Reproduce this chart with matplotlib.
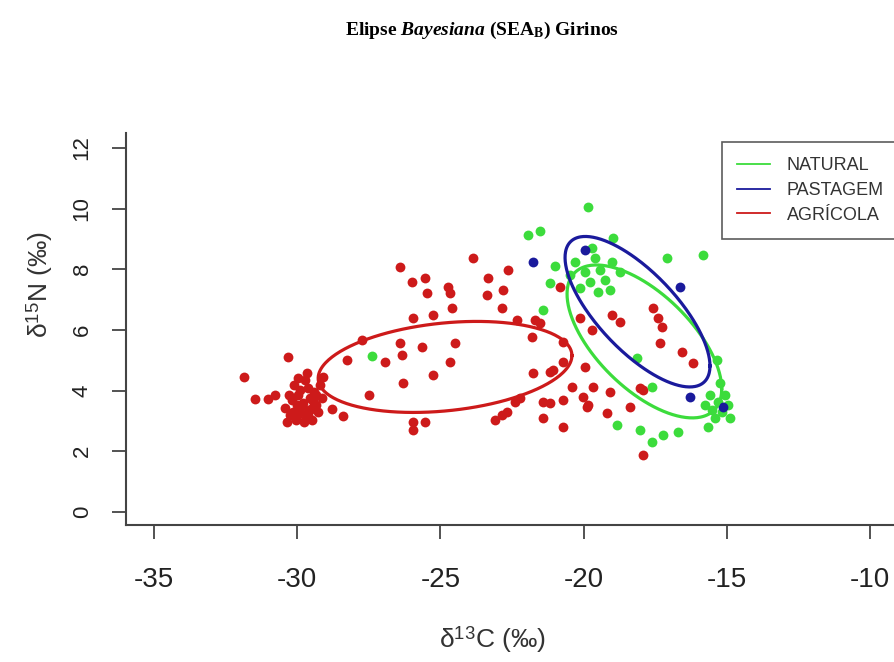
import numpy as np
import matplotlib
matplotlib.use("Agg")
import matplotlib.pyplot as plt
from matplotlib.lines import Line2D

plt.rcParams['font.family'] = ['Liberation Sans', 'DejaVu Sans']
plt.rcParams['axes.unicode_minus'] = False
plt.rcParams['mathtext.fontset'] = 'custom'
plt.rcParams['mathtext.rm'] = 'Liberation Sans'
plt.rcParams['mathtext.it'] = 'Liberation Serif:italic:bold'
plt.rcParams['mathtext.bf'] = 'Liberation Serif:bold'

# d13C / d15N
agri_x = [-31.86, -31.47, -31.02, -30.78, -30.32, -29.66, -29.97, -29.10,
          -30.43, -30.18, -29.97, -29.80, -29.55, -29.34, -30.25, -29.90, -29.62,
          -30.04, -29.76, -29.48, -30.36, -29.27, -29.90, -30.11, -29.62, -29.41,
          -29.13, -29.73, -30.01, -29.52, -29.20, -30.29,
          -29.85, -29.60, -30.15, -29.45, -29.70, -30.00, -29.35,
          -28.78, -28.40, -28.26, -27.74, -26.93, -27.49,
          -26.41, -25.99, -25.54, -25.47, -24.73, -24.66, -24.60, -23.86, -23.34,
          -23.37, -22.81, -22.64, -22.85, -25.96, -25.26, -22.33,
          -26.41, -26.34, -25.64, -24.49, -24.66, -25.26, -26.31,
          -25.96, -25.54, -25.96, -23.09, -22.67, -22.39, -22.85, -22.22,
          -21.77, -21.17, -20.72, -19.95, -20.41, -19.67, -21.42, -21.17, -20.72,
          -20.02, -19.85, -21.42, -20.72, -19.18, -19.08, -18.38, -18.03, -17.93,
          -20.13, -19.71, -19.01, -18.73, -20.82, -21.70, -21.80, -20.72,
          -17.58, -17.40, -17.26, -17.33, -16.56, -16.18, -17.93, -19.88,
          -21.52, -21.07]
agri_y = [4.45, 3.73, 3.73, 3.86, 5.11, 4.58, 4.42, 4.45,
          3.43, 3.69, 3.86, 3.59, 3.76, 3.53, 3.20, 3.30, 3.20,
          3.03, 2.97, 3.03, 2.97, 3.30, 4.02, 4.19, 4.09, 3.96,
          3.76, 4.35, 3.53, 3.40, 4.19, 3.86,
          3.50, 3.35, 3.30, 3.65, 3.10, 3.15, 3.85,
          3.40, 3.17, 5.01, 5.67, 4.95, 3.86,
          8.08, 7.58, 7.72, 7.22, 7.42, 7.22, 6.73, 8.37, 7.72,
          7.15, 7.32, 7.98, 6.73, 6.40, 6.50, 6.33,
          5.57, 5.18, 5.44, 5.57, 4.95, 4.52, 4.25,
          2.97, 2.97, 2.70, 3.03, 3.30, 3.63, 3.20, 3.76,
          4.58, 4.62, 4.95, 4.78, 4.12, 4.12, 3.63, 3.59, 3.69,
          3.79, 3.53, 3.10, 2.80, 3.26, 3.96, 3.46, 4.09, 1.88,
          6.40, 6.00, 6.50, 6.26, 7.42, 6.33, 5.77, 5.60,
          6.73, 6.40, 6.10, 5.57, 5.28, 4.91, 4.02, 3.46,
          6.23, 4.68]

nat_x = [-19.85, -21.94, -21.52, -21.00, -21.17, -18.97, -17.09, -15.83, -21.42,
         -20.30, -19.95, -19.60, -19.43, -19.78, -19.25, -19.01, -20.13, -19.50,
         -19.08, -18.73, -19.71, -20.47,
         -18.14, -17.61, -18.83, -18.03, -17.61, -17.23, -16.70, -15.66,
         -15.34, -15.24, -15.59, -15.31, -15.06, -15.52, -15.17, -14.96, -15.76,
         -14.89, -15.41, -27.39]
nat_y = [10.06, 9.13, 9.26, 8.11, 7.55, 9.03, 8.37, 8.47, 6.66,
         8.24, 7.91, 8.37, 7.98, 7.58, 7.65, 8.24, 7.39, 7.25,
         7.32, 7.91, 8.70, 7.81,
         5.08, 4.12, 2.87, 2.70, 2.31, 2.54, 2.64, 2.80,
         5.01, 4.25, 3.86, 3.63, 3.86, 3.36, 3.30, 3.53, 3.53,
         3.10, 3.10, 5.14]

past_x = [-21.77, -19.95, -16.63, -16.28, -15.13]
past_y = [8.24, 8.64, 7.42, 3.79, 3.46]

# SEA_B ellipses: centre, spread and correlation (NATURAL, PASTAGEM, AGRICOLA)
groups = ['NATURAL', 'PASTAGEM', 'AGRÍCOLA']
colors = ['#3CDC3C', '#1A1A9C', '#CD1A1A']
ell_cx = [-17.88, -18.12, -24.84]
ell_cy = [5.62, 6.60, 4.78]
ell_sx = [2.70, 2.53, 4.43]
ell_sy = [2.52, 2.48, 1.50]
ell_rho = [-0.62, -0.72, 0.25]

fig = plt.figure(figsize=(8.95, 6.62), dpi=100)
ax = fig.add_axes([126 / 895, 1 - 525 / 662, 1 - 126 / 895, (525 - 133) / 662])

ax.scatter(agri_x, agri_y, s=50, color=colors[2], linewidths=0, zorder=2)
ax.scatter(nat_x, nat_y, s=50, color=colors[0], linewidths=0, zorder=3)
ax.scatter(past_x, past_y, s=50, color=colors[1], linewidths=0, zorder=4)

t = np.linspace(0, 2 * np.pi, 300)
for i in [2, 0, 1]:
    ex = ell_cx[i] + ell_sx[i] * np.cos(t)
    ey = ell_cy[i] + ell_sy[i] * (ell_rho[i] * np.cos(t) + np.sqrt(1 - ell_rho[i] ** 2) * np.sin(t))
    ax.plot(ex, ey, color=colors[i], lw=2.3, zorder=5)

ax.set_xlim(-35.98, -35.98 + (895 - 126) / 28.64)
ax.set_ylim(-0.43, 12.49)
ax.set_xticks([-35, -30, -25, -20, -15, -10])
ax.set_yticks([0, 2, 4, 6, 8, 10, 12])
ax.spines['top'].set_visible(False)
ax.spines['right'].set_visible(False)
for s in ['left', 'bottom']:
    ax.spines[s].set_color('#444444')
    ax.spines[s].set_linewidth(1.5)
ax.tick_params(axis='both', length=10, width=1.3, color='#444444', labelcolor='#222222')
ax.tick_params(axis='x', labelsize=20, pad=20)
ax.tick_params(axis='y', labelsize=16, pad=14, labelrotation=90)
for lab in ax.get_yticklabels():
    lab.set_va('center')

handles = [Line2D([], [], color=c, lw=1.3) for c in colors]
leg = fig.legend(handles, groups, loc='upper left', bbox_to_anchor=(722 / 895, 1 - 142 / 662),
                 fontsize=13, frameon=True, fancybox=False, edgecolor='#333333',
                 borderaxespad=0, handlelength=1.8, handletextpad=0.95, labelspacing=0.42,
                 borderpad=0.85)
leg.get_frame().set_linewidth(1.2)
for txt in leg.get_texts():
    txt.set_color('#333333')

fig.text(492 / 895, 1 - 640 / 662, 'δ$^{13}$C (‰)', fontsize=19, ha='center', va='center', color='#333333')
fig.text(40 / 895, 1 - 285 / 662, 'δ$^{15}$N (‰)', fontsize=19, ha='center', va='center',
         rotation=90, color='#333333')
fig.text(482 / 895, 1 - 30 / 662, 'Elipse $\\mathit{Bayesiana}$ (SEA$_\\mathbf{B}$) Girinos',
         fontsize=14, family='Liberation Serif', weight='bold', ha='center', va='center')

fig.savefig('out.png', dpi=100)
